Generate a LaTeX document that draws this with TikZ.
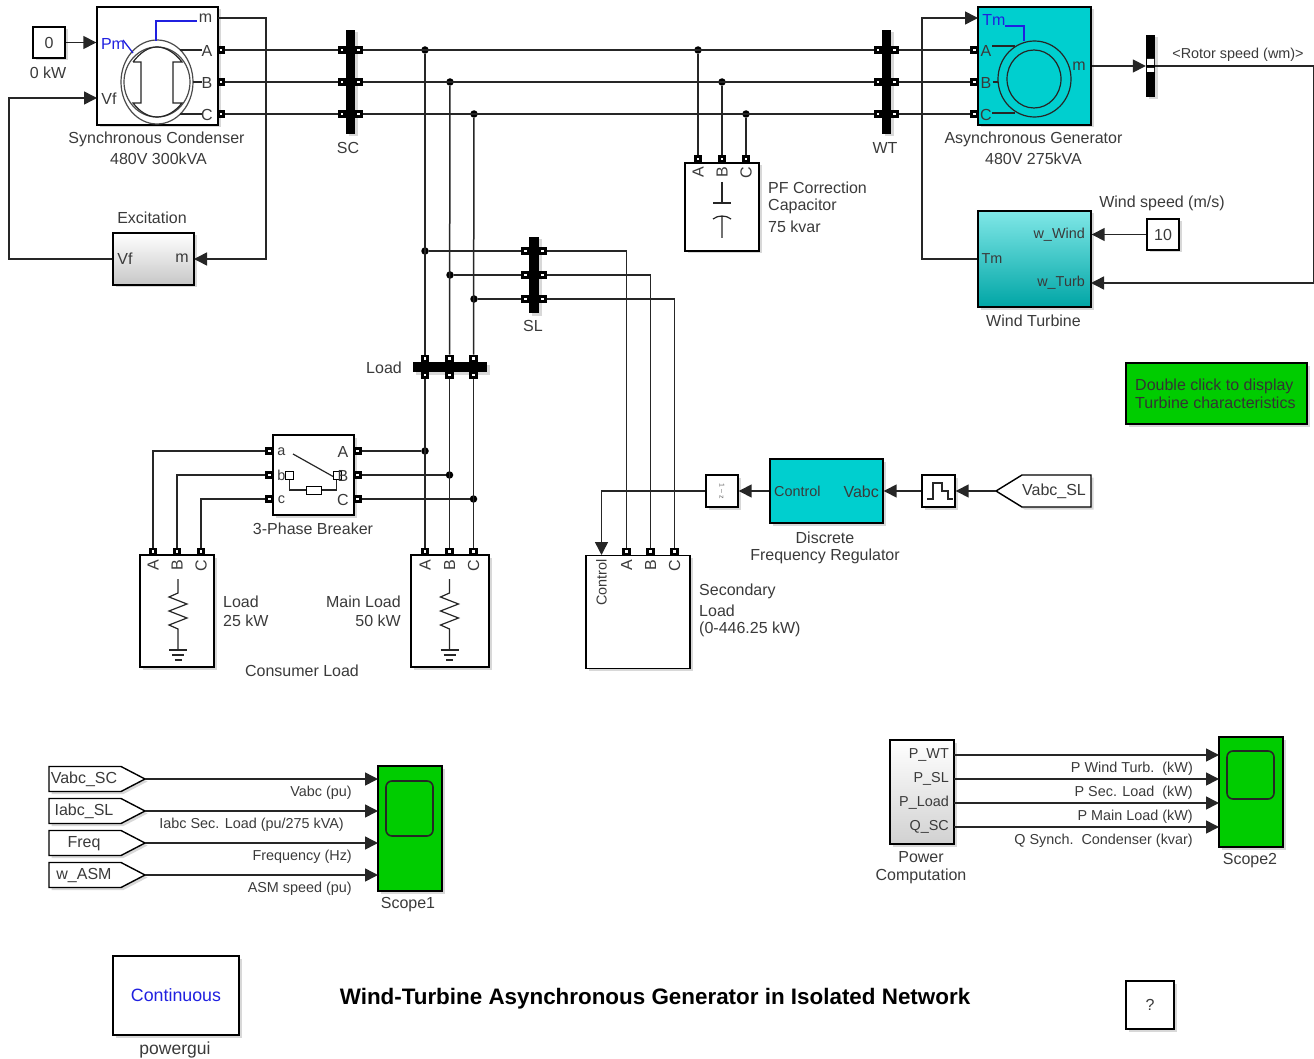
\documentclass[tikz,border=0pt]{standalone}
\usepackage{fontspec}
\setmainfont{Liberation Sans}
\usetikzlibrary{arrows.meta,positioning,calc,shadows,shapes.geometric}
\definecolor{asmcyan}{HTML}{00CFCF}
\definecolor{scopegreen}{HTML}{00CC00}
\definecolor{sigblue}{HTML}{2020E0}
\definecolor{txtgray}{HTML}{3A3A3A}

\begin{document}
\begin{tikzpicture}[
  x=1pt,y=-1pt,
  every node/.style={font=\fontsize{16}{19}\selectfont,color=txtgray,inner sep=0pt,yshift=-0.5pt},
  noshift/.style={yshift=0.5pt},
  softshadow/.style={drop shadow={shadow xshift=2.5pt,shadow yshift=-2.5pt,fill=black!30,draw=none}},
  block/.style={draw=black,text=txtgray,line width=1.4pt,fill=white,softshadow,minimum width=#1,noshift},
  port/.style={draw=black,fill=white,line width=2.6pt,minimum width=5.5pt,minimum height=5pt,noshift},
  bus/.style={fill=black,draw=none,softshadow,noshift},
  dot/.style={circle,fill=black,minimum size=7.5pt,noshift},
  wire/.style={line width=1.5pt,color=black!85},
  sig/.style={wire,-{Triangle[length=13pt,width=13pt]}},
  symb/.style={line width=1.2pt,color=black!85},
  bluewire/.style={line width=1.3pt,color=sigblue},
  sidelbl/.style={align=left,anchor=west},
  rightlbl/.style={anchor=east},
  smalllbl/.style={font=\fontsize{14.4}{17}\selectfont},
  vert/.style={rotate=90},
  fromtag/.style={draw=black,line width=1.4pt,fill=white,softshadow},
  brkbox/.style={draw=black,line width=1pt,fill=white,minimum height=8pt,noshift}
]
\useasboundingbox (0,0) rectangle (1314,1059);

% generators
\node[block=121pt,minimum height=118pt] (sc) at (157.5,66) {};
\node[block=113pt,minimum height=118pt,fill=asmcyan] (asm) at (1034.5,66) {};
\node[block=32pt,minimum height=31pt] (czero) at (49,42.5) {0};
\node at (48,72) {0 kW};
\node at (156.5,139) {Synchronous Condenser};
\node at (158.5,158) {480V 300kVA};
\node at (1033.5,139) {Asynchronous Generator};
\node at (1033.5,158) {480V 275kVA};

% machine drawings
\draw[symb,color=black!70] (157,82) ellipse[x radius=36,y radius=42];
\draw[symb,color=black!70] (157,82) ellipse[x radius=33,y radius=35];
\draw[symb] (133,62) -- (141,62) -- (141,103) -- (133,103)
  .. controls (140,112) and (148,117) .. (157,117)
  .. controls (166,117) and (175,112) .. (182,103) -- (173,103) -- (173,62) -- (182,62)
  .. controls (175,53) and (166,47) .. (157,47)
  .. controls (148,47) and (140,53) .. (133,62);
\draw[bluewire] (197,21) -- (156,21) -- (156,41);
\draw[bluewire] (123,40) -- (133,53);
\draw[symb] (180,50) -- (202,50) (193,82) -- (202,82) (180,114) -- (202,114);
\node[color=sigblue] at (113,43) {Pm};
\node at (205.5,18) {m};
\node at (207,50) {A};
\node at (207,82) {B};
\node at (207,114) {C};
\node at (109,98) {Vf};

\draw[symb] (1034.5,79) ellipse[x radius=36.5,y radius=38];
\draw[symb] (1034,79) ellipse[x radius=27,y radius=29];
\draw[bluewire] (1005,26) -- (1024,26) -- (1024,41);
\draw[symb] (992,46) -- (1015,46) (993,82) -- (998,82) (992,113) -- (1015,113);
\node[color=sigblue] at (994,19) {Tm};
\node at (986,50) {A};
\node at (986,82) {B};
\node at (986,114) {C};
\node at (1079,66) {m};

% excitation and turbine
\node[block=81pt,minimum height=52pt,top color=white,bottom color=black!22] (exc) at (153.5,259) {};
\node at (152,217) {Excitation};
\node at (125,258) {Vf};
\node at (182,258) {m};
\node[block=113pt,minimum height=96pt,top color=asmcyan!50,bottom color=asmcyan!80!black] (wt) at (1034.5,259) {};
\node[smalllbl] at (992,258) {Tm};
\node[anchor=east,smalllbl] at (1085,234) {w\_Wind};
\node[anchor=east,smalllbl] at (1085,282) {w\_Turb};
\node at (1033.5,320) {Wind Turbine};
\node at (1162,203) {Wind speed (m/s)};
\node[block=32pt,minimum height=31pt] (cwind) at (1163,234.5) {10};
\node[bus,minimum width=9pt,minimum height=62pt] (mux) at (1150.5,66) {};
\fill[white] (1147,59) rectangle (1154,65) (1147,68) rectangle (1154,72);
\node[smalllbl] at (1238,54) {<Rotor speed (wm)>};
\node[block=181pt,minimum height=61pt,fill=scopegreen] (dbl) at (1216.5,393.5) {};
\node[sidelbl,color=black!80] at (1135,386) {Double click to display};
\node[sidelbl,color=black!80] at (1135,402) {Turbine characteristics};

\draw[sig] (czero) -- (sc.west|-czero);
\coordinate[noshift] (vfin) at (97,98);
\draw[sig] (exc.west) -- (9,259) -- (9,98) -- (vfin);
\coordinate[noshift] (scm) at (218,18);
\coordinate[noshift] (excm) at (194,259);
\draw[sig] (scm) -- (266,18) -- (266,259) -- (excm);
\coordinate[noshift] (tmin) at (978,18);
\draw[sig] (wt.west) -- (922,259) -- (922,18) -- (tmin);
\draw[sig] (asm.east|-mux) -- (mux);
\coordinate[noshift] (wturb) at (1091,283);
\draw[sig] (mux) -- (1313.5,66) -- (1313.5,283) -- (wturb);
\draw[sig] (cwind) -- (wt.east|-cwind);

% main busbars
\node[bus,minimum width=9pt,minimum height=104pt] (scbus) at (350.5,82) {};
\node[bus,minimum width=9pt,minimum height=104pt] (wtbus) at (886.5,82) {};
\node[bus,minimum width=10pt,minimum height=76pt] (slbus) at (534,275) {};
\node[bus,minimum width=74pt,minimum height=10pt] (loadbus) at (450,367) {};
\node at (348,147) {SC};
\node at (885,147) {WT};
\node at (533,325) {SL};
\node at (384,367) {Load};

% capacitor
\node[block=74pt,minimum height=88pt] (pf) at (722,207) {};
\draw[symb] (722,182) -- (722,203) (713,203) -- (731,203);
\draw[symb] (713,219) .. controls (718,215) and (726,215) .. (731,219) (722,216) -- (722,238);
\node[sidelbl] at (768,187) {PF Correction};
\node[sidelbl] at (768,206) {Capacitor};
\node[sidelbl] at (768,226) {75 kvar};

% loads
\node[block=74pt,minimum height=112pt] (load) at (177,611) {};
\node[block=78pt,minimum height=112pt] (mainload) at (450,611) {};
\node[block=104pt,minimum height=113pt,anchor=north] (secload) at (638,555) {};
\foreach \xx in {178,449.5}{
  \draw[symb] (\xx,579) -- (\xx,593) -- ++(-9,4) -- ++(18,7) -- ++(-18,7) -- ++(18,7) -- ++(-18,7) -- ++(9,4) -- (\xx,650);
  \draw[symb] (\xx-9,650) -- (\xx+9,650) (\xx-6,655) -- (\xx+6,655) (\xx-3.5,660) -- (\xx+3.5,660);
}
\node[sidelbl] at (223,601) {Load};
\node[sidelbl] at (223,620) {25 kW};
\node[rightlbl] at (401,601) {Main Load};
\node[rightlbl] at (401,620) {50 kW};
\node at (302,670) {Consumer Load};
\node[sidelbl] at (699,591) {Secondary};
\node[sidelbl] at (699,610) {Load};
\node[sidelbl] at (699,629) {(0-446.25 kW)};
\node[vert,smalllbl] at (601.5,582) {Control};

% three phase ports and wiring
\node[block=81pt,minimum height=80pt] (brk) at (313.5,475) {};
\node at (313,528) {3-Phase Breaker};
\draw[symb] (293,454) -- (334,477);
\draw[symb] (289.5,478) -- (289.5,490) -- (306,490) (321,490) -- (336.5,490) -- (336.5,478);
\node[brkbox,minimum width=8pt] (brkl) at (289,475) {};
\node[brkbox,minimum width=8pt] (brkr) at (337,475) {};
\node[brkbox,minimum width=15pt] (brkres) at (313.5,490) {};

\foreach \ph/\yy/\ya/\xa/\xb/\xl/\xs/\ysl/\xd in {
    A/50/451/698/425/153/626.5/251/425,
    B/82/475/722/450/177/650.5/275/449.5,
    C/114/499/746/474/201/674.5/299/473.5}{
  \node[port] (scp\ph) at (221,\yy) {};
  \node[port] (scl\ph) at (342,\yy) {};
  \node[port] (scr\ph) at (358.5,\yy) {};
  \node[port] (wtl\ph) at (878,\yy) {};
  \node[port] (wtr\ph) at (894.5,\yy) {};
  \node[port] (asmp\ph) at (974.5,\yy) {};
  \node[dot] (top\ph) at (\xb,\yy) {};
  \node[dot] (cap\ph) at (\xa,\yy) {};
  \node[port] (pfp\ph) at (\xa,159) {};
  \node[vert] at (\xa,172) {\ph};
  \draw[wire] (scp\ph) -- (scl\ph);
  \draw[wire] (scr\ph) -- (wtl\ph);
  \draw[wire] (wtr\ph) -- (asmp\ph);
  \draw[wire] (cap\ph) -- (pfp\ph);
  % secondary load branch
  \node[dot] (sl\ph) at (\xb,\ysl) {};
  \node[port] (sll\ph) at (525.5,\ysl) {};
  \node[port] (slr\ph) at (542.5,\ysl) {};
  \node[port] (secp\ph) at (\xs,551.5) {};
  \node[vert] at (\xs,565) {\ph};
  \draw[wire] (sl\ph) -- (sll\ph);
  \draw[wire] (slr\ph) -- (\xs,\ysl) -- (secp\ph);
  % load bus
  \node[port] (lbt\ph) at (\xd,358.5) {};
  \node[port] (lbb\ph) at (\xd,375) {};
  \draw[wire] (top\ph) -- (lbt\ph);
  % breaker and loads
  \node[dot] (br\ph) at (\xd,\ya) {};
  \node[port] (mnp\ph) at (\xd,551.5) {};
  \node[vert] at (\xd,565) {\ph};
  \draw[wire] (lbb\ph) -- (mnp\ph);
  \node[port] (brr\ph) at (357.5,\ya) {};
  \node[port] (brl\ph) at (269.5,\ya) {};
  \node[port] (lop\ph) at (\xl,551.5) {};
  \node[vert] at (\xl,565) {\ph};
  \draw[wire] (brr\ph) -- (br\ph);
  \draw[wire] (brl\ph) -- (\xl,\ya) -- (lop\ph);
  \node at (343,\ya) {\ph};
}
\node[smalllbl] at (281.5,451) {a};
\node[smalllbl] at (281.5,475) {b};
\node[smalllbl] at (281.5,499) {c};

% regulator chain
\node[block=32pt,minimum height=32pt] (gain) at (722,491) {};
\node[rotate=-90,color=black!60] at (722,491) {\fontsize{7}{8}\selectfont 1 -- z};
\node[block=113pt,minimum height=64pt,fill=asmcyan] (freg) at (826.5,491) {};
\node[anchor=west,smalllbl] at (774,491) {Control};
\node[anchor=east] at (879,491) {Vabc};
\node at (825,537) {Discrete};
\node at (825,556) {Frequency Regulator};
\node[block=33pt,minimum height=32pt] (zoh) at (938.5,491) {};
\draw[symb] (927,499) -- (933,499) -- (933,483) -- (942,483) -- (942,491) -- (948,491) -- (948,499) -- (953,499);
\draw[fromtag] (996,491) -- (1022,475) -- (1091,475) -- (1091,507) -- (1022,507) -- cycle;
\coordinate[noshift] (vabcsl) at (996,491);
\node at (1054,491) {Vabc\_SL};
\draw[sig] (vabcsl) -- (zoh);
\draw[sig] (zoh) -- (freg);
\draw[sig] (freg) -- (gain);
\coordinate[noshift] (ctrlin) at (601.5,555);
\draw[sig] (gain) -- (601.5,491) -- (ctrlin);

% scopes
\node[block=64pt,minimum height=125pt,fill=scopegreen] (scope1) at (410,828.5) {};
\draw[symb,rounded corners=6pt,line width=1.6pt] (386,781) rectangle (433,836);
\node at (408,904) {Scope1};
\node[block=64pt,minimum height=110pt,fill=scopegreen] (scope2) at (1251,792) {};
\draw[symb,rounded corners=6pt,line width=1.6pt] (1227,751) rectangle (1274,799);
\node at (1250,860) {Scope2};
\foreach \yy/\tg/\tx/\ind/\lbx in {
    779/Vabc\_SC/Vabc (pu)/84/352,
    811/Iabc\_SL/Iabc Sec. Load (pu\slash 275 kVA)/84/344,
    843/Freq/Frequency (Hz)/84/352,
    875/w\_ASM/ASM speed (pu)/84/352}{
  \draw[fromtag] (49,\yy-12.5) -- (121,\yy-12.5) -- (145,\yy) -- (121,\yy+12.5) -- (49,\yy+12.5) -- cycle;
  \node at (\ind,\yy) {\tg};
  \coordinate[noshift] (tagout) at (145,\yy);
  \coordinate[noshift] (scin) at (378,\yy);
  \draw[sig] (tagout) -- (scin);
  \node[rightlbl,smalllbl] at (\lbx,\yy+13) {\tx};
}
\node[block=64pt,minimum height=104pt,top color=white,bottom color=black!18] (pcomp) at (922,792) {};
\node at (921,857) {Power};
\node at (921,876) {Computation};
\foreach \yy/\tg/\tx in {
    755/P\_WT/P Wind Turb.~~(kW),
    779/P\_SL/P Sec. Load~~(kW),
    803/P\_Load/P Main Load (kW),
    827/Q\_SC/Q Synch.~~Condenser (kvar)}{
  \node[rightlbl,smalllbl] at (949,\yy-1) {\tg};
  \coordinate[noshift] (pcout) at (954,\yy);
  \coordinate[noshift] (scin) at (1219,\yy);
  \draw[sig] (pcout) -- (scin);
  \node[rightlbl,smalllbl] at (1193,\yy+13) {\tx};
}

% bottom row
\node[block=126pt,minimum height=79pt,font=\fontsize{17.8}{21}\selectfont] (pgui) at (176,995.5) {\textcolor{sigblue}{Continuous}};
\node[font=\fontsize{17.5}{21}\selectfont] at (175,1049) {powergui};
\node[color=black,font=\fontsize{22.4}{27}\selectfont\bfseries] (title) at (655,998) {Wind-Turbine Asynchronous Generator in Isolated Network};
\node[block=48pt,minimum height=48pt] (help) at (1150,1005) {?};
\end{tikzpicture}
\end{document}
